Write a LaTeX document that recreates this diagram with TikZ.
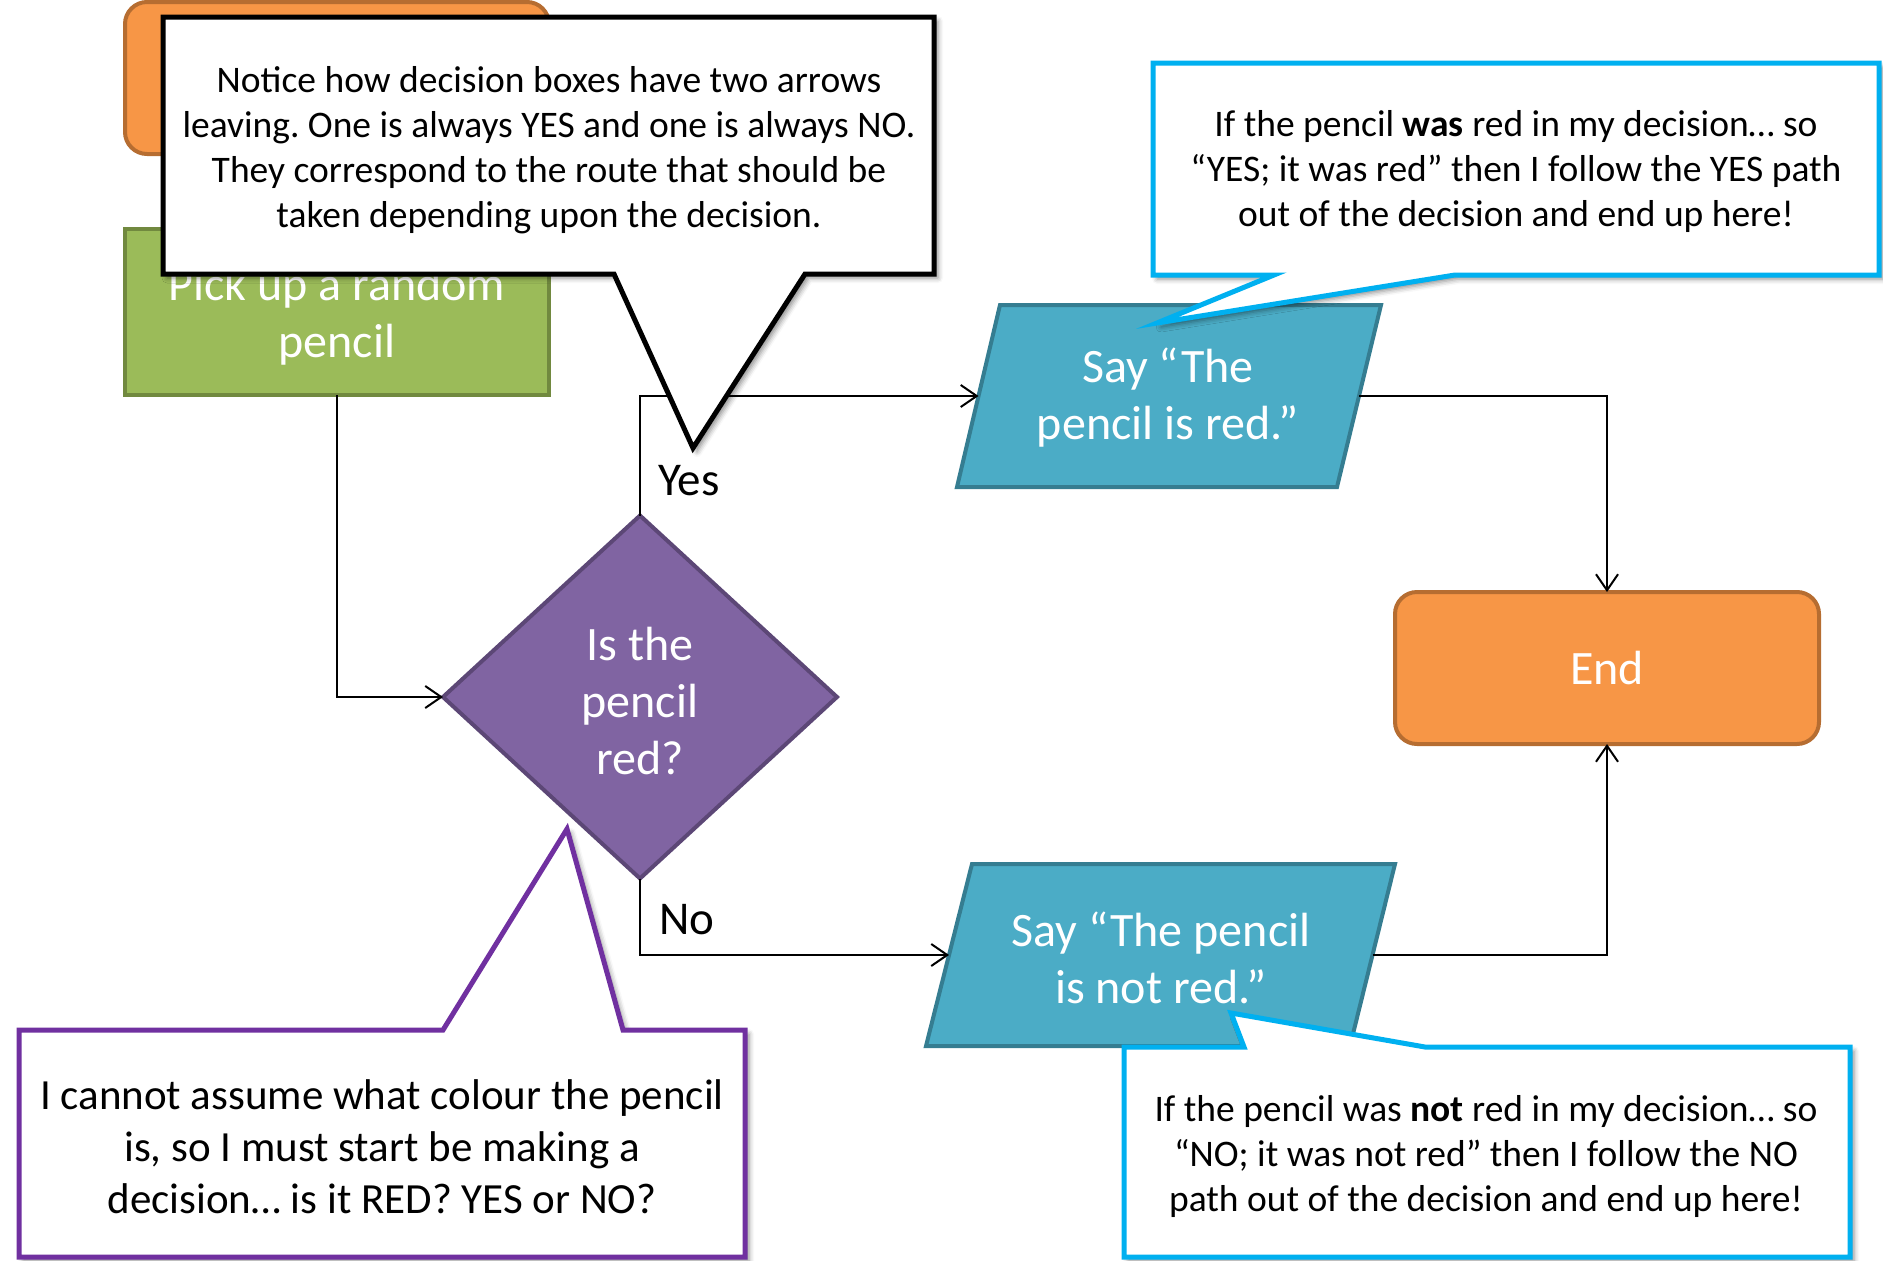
\documentclass[tikz,border=0pt]{standalone}
\usepackage{fontspec}
\setmainfont{Carlito}
\usetikzlibrary{arrows.meta,shapes.geometric,shadows.blur}
\frenchspacing

\definecolor{termfill}{HTML}{F79646}
\definecolor{termline}{HTML}{B66D31}
\definecolor{procfill}{HTML}{9BBB59}
\definecolor{procline}{HTML}{71893F}
\definecolor{decfill}{HTML}{8064A2}
\definecolor{decline}{HTML}{5C4776}
\definecolor{iofill}{HTML}{4BACC6}
\definecolor{ioline}{HTML}{357D91}
\definecolor{noteblue}{HTML}{00B0F0}
\definecolor{notepurple}{HTML}{7030A0}

\newcommand{\bigtext}{\fontsize{48}{57}\selectfont}
\newcommand{\notetext}{\fontsize{37.5}{45}\selectfont}
\newcommand{\widenotetext}{\fontsize{43}{52}\selectfont}

\tikzset{
  termbox/.style={draw=termline, fill=termfill, line width=4pt, rounded corners=22pt,
    minimum width=424, minimum height=152, inner sep=0pt, outer sep=0pt,
    text=white, font=\bigtext},
  procbox/.style={draw=procline, fill=procfill, line width=4pt,
    minimum width=424, minimum height=166, inner sep=0pt, outer sep=0pt},
  decbox/.style={shape=diamond, draw=decline, fill=decfill, line width=4pt,
    minimum width=394, minimum height=363, inner sep=0pt, outer sep=0pt},
  iobox/.style={draw=ioline, fill=iofill, line width=4pt, line join=miter},
  whitetext/.style={text=white, font=\bigtext, align=center, inner sep=0pt},
  conn/.style={draw=black, line width=2pt,
    -{Straight Barb[length=16pt, width=22pt, line width=2pt]}},
  edgelabel/.style={font=\fontsize{47}{55}\selectfont, anchor=west, inner sep=0pt},
  notebox/.style={fill=white, line width=5pt, line join=miter,
    blur shadow={shadow xshift=4pt, shadow yshift=-4pt, shadow blur radius=5pt,
      shadow opacity=45}},
  notelabel/.style={align=center, inner sep=0pt, font=\notetext},
}

\begin{document}
\begin{tikzpicture}[x=1pt, y=-1pt]
\useasboundingbox (0,0) rectangle (1883,1261);

% start terminator and first process
\node[termbox] (start) at (337,78) {};
\node[procbox] (pick) at (337,312) {};
\node[whitetext] (picktext) at (337,316) {Pick up a random\\pencil};

% decision
\node[decbox] (dec) at (640,697) {};
\node[whitetext] (dectext) at (640,701) {Is the\\pencil\\red?};

% output parallelograms
\coordinate (p1tl) at (1000,305);
\coordinate (p1tr) at (1381,305);
\coordinate (p1br) at (1337,487);
\coordinate (p1bl) at (957,487);
\path[iobox] (p1tl) -- (p1tr) -- (p1br) -- (p1bl) -- cycle;
\node[whitetext] (saytrue) at (1168,398) {Say “The\\pencil is red.”};

\coordinate (p2tl) at (972,864);
\coordinate (p2tr) at (1395,864);
\coordinate (p2br) at (1350,1046);
\coordinate (p2bl) at (926,1046);
\path[iobox] (p2tl) -- (p2tr) -- (p2br) -- (p2bl) -- cycle;
\node[whitetext] (sayfalse) at (1161,958) {Say “The pencil\\is not red.”};

% end terminator
\node[termbox] (end) at (1607,668) {End};

% connection points on the slanted sides
\coordinate (p1w) at (978.5,396);
\coordinate (p1e) at (1359,396);
\coordinate (p2w) at (949,955);
\coordinate (p2e) at (1372.5,955);

% connectors
\draw[conn] (pick.south) |- (dec.west);
\draw[conn] (dec.north) |- (p1w);
\draw[conn] (p1e) -| (end.north);
\draw[conn] (dec.south) |- (p2w);
\draw[conn] (p2e) -| (end.south);

\node[edgelabel] (yes) at (658,481) {Yes};
\node[edgelabel] (no) at (659,920) {No};

% callout about the two leaving arrows
\path[notebox, draw=black]
  (163,17) -- (934,17) -- (934,274) -- (805,274) -- (693,448) -- (614,274)
  -- (163,274) -- cycle;
\node[notelabel] (note1) at (549,150)
  {Notice how decision boxes have two arrows\\
   leaving. One is always YES and one is always NO.\\
   They correspond to the route that should be\\
   taken depending upon the decision.};

% callout for the YES branch
\path[notebox, draw=noteblue]
  (1153,63) -- (1879,63) -- (1879,275) -- (1455,275) -- (1157,323) -- (1274,275)
  -- (1153,275) -- cycle;
\node[notelabel] (note2) at (1516,171)
  {If the pencil \textbf{was} red in my decision… so\\
   “YES; it was red” then I follow the YES path\\
   out of the decision and end up here!};

% callout for the NO branch
\path[notebox, draw=noteblue]
  (1124,1047) -- (1244,1047) -- (1231,1013) -- (1425,1047) -- (1850,1047)
  -- (1850,1257) -- (1124,1257) -- cycle;
\node[notelabel] (note3) at (1486,1156)
  {If the pencil was \textbf{not} red in my decision… so\\
   “NO; it was not red” then I follow the NO\\
   path out of the decision and end up here!};

% callout about the decision
\path[notebox, draw=notepurple]
  (19,1030) -- (443,1030) -- (567,829) -- (623,1030) -- (745,1030)
  -- (745,1257) -- (19,1257) -- cycle;
\node[notelabel, font=\widenotetext] (note4) at (382,1147)
  {I cannot assume what colour the pencil\\
   is, so I must start be making a\\
   decision… is it RED? YES or NO?};
\end{tikzpicture}
\end{document}
